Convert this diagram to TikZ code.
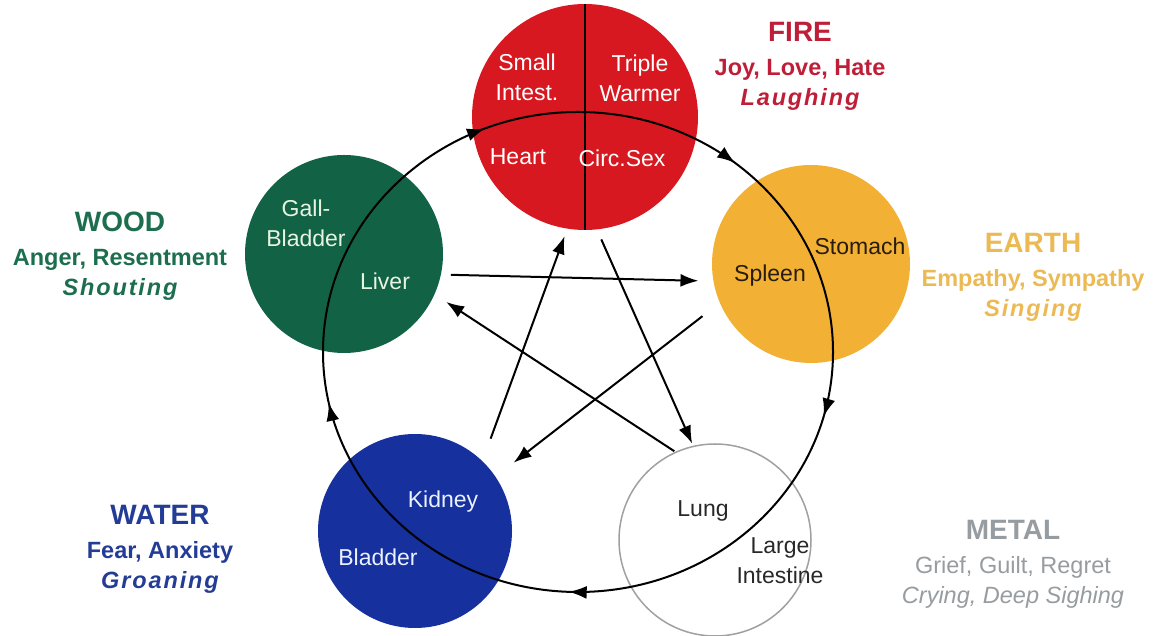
\documentclass[tikz,border=0pt]{standalone}
\usepackage{fontspec}
\setmainfont{Liberation Sans}
\usetikzlibrary{arrows.meta,decorations.markings}
\definecolor{firered}{RGB}{216,24,32}
\definecolor{firetxt}{RGB}{190,30,55}
\definecolor{earthor}{RGB}{242,176,52}
\definecolor{earthtxt}{RGB}{236,186,84}
\definecolor{woodgr}{RGB}{18,98,70}
\definecolor{woodtxt}{RGB}{28,110,78}
\definecolor{waterbl}{RGB}{22,48,158}
\definecolor{watertxt}{RGB}{35,60,150}
\definecolor{metalgr}{RGB}{160,160,160}
\definecolor{metaltxt}{RGB}{150,156,160}
\newcommand{\sound}[1]{{\itshape\addfontfeature{LetterSpace=8}#1}}

\begin{document}
\begin{tikzpicture}[x=1pt, y=1pt, element/.style={circle, inner sep=0, outer sep=0}, organ/.style={font=\fontsize{23}{30}\selectfont, align=center, inner sep=0}, group/.style={anchor=north, font=\fontsize{23.5}{30}\selectfont\bfseries, align=center, inner sep=0}, link/.style={-{Latex[length=18pt,width=13pt]}, line width=2pt}]
\useasboundingbox (0,0) rectangle (1156,636);
% the five elements
\node[element, fill=firered, minimum size=226pt] (fire) at (585,519) {};
\node[element, fill=earthor, minimum size=198pt] (earth) at (811,372) {};
\node[element, draw=metalgr, line width=1.5pt, minimum size=192pt] (metal) at (715,96) {};
\node[element, fill=waterbl, minimum size=194pt] (water) at (415,105) {};
\node[element, fill=woodgr, minimum size=198pt] (wood) at (344,382) {};
\draw[line width=1.6pt] (fire.north) -- (fire.south);
% feeding cycle
\coordinate (hub) at (578,284);
\draw[line width=2pt, postaction={decorate}, decoration={markings, mark=at position 0.108 with {\arrow{Latex[length=18pt,width=13pt]}}, mark=at position 0.292 with {\arrow{Latex[length=18pt,width=13pt]}}, mark=at position 0.506 with {\arrow{Latex[length=18pt,width=13pt]}}, mark=at position 0.717 with {\arrow{Latex[length=18pt,width=13pt]}}, mark=at position 0.939 with {\arrow{Latex[length=18pt,width=13pt]}}}] ([yshift=240pt]hub) arc[start angle=90, end angle=-270, x radius=255, y radius=240];
% controlling star
\draw[link, shorten <=10pt, shorten >=15pt] (wood.-12) -- (earth.190);
\draw[link, shorten <=24pt, shorten >=8pt] (water.46) -- (fire.261);
\draw[link, shorten <=11pt, shorten >=3pt] (fire.276) -- (metal.103);
\draw[link, shorten <=22pt, shorten >=23pt] (earth.203) -- (water.34);
\draw[link, shorten <=2pt, shorten >=14pt] (metal.114) -- (wood.-24);
% organs
\node[organ, text=white] (si) at (527,559) {Small\\Intest.};
\node[organ, text=white] (tw) at (640,558) {Triple\\Warmer};
\node[organ, text=white] (ht) at (518,479) {Heart};
\node[organ, text=white] (cs) at (622,478) {Circ.Sex};
\node[organ, text={rgb,255:red,40;green,28;blue,12}] (st) at (860,390) {Stomach};
\node[organ, text={rgb,255:red,40;green,28;blue,12}] (sp) at (770,360) {Spleen};
\node[organ, text={rgb,255:red,40;green,40;blue,40}] (lu) at (703,125) {Lung};
\node[organ, text={rgb,255:red,40;green,40;blue,40}] (li) at (780,75) {Large\\Intestine};
\node[organ, text={rgb,255:red,235;green,242;blue,255}] (ki) at (443,134) {Kidney};
\node[organ, text={rgb,255:red,235;green,242;blue,255}] (bl) at (378,79) {Bladder};
\node[organ, text={rgb,255:red,232;green,244;blue,226}] (gb) at (306,413) {Gall-\\Bladder};
\node[organ, text={rgb,255:red,232;green,244;blue,226}] (lv) at (385,355) {Liver};
% element names
\node[group, text=firetxt] (firename) at (800,614) {{\fontsize{28}{30}\selectfont FIRE}\\[4pt] Joy, Love, Hate\\ \sound{Laughing}};
\node[group, text=earthtxt] (earthname) at (1033,403) {{\fontsize{28}{30}\selectfont EARTH}\\[4pt] Empathy, Sympathy\\ \sound{Singing}};
\node[group, text=woodtxt] (woodname) at (120,424) {{\fontsize{28}{30}\selectfont WOOD}\\[4pt] Anger, Resentment\\ \sound{Shouting}};
\node[group, text=watertxt] (watername) at (160,131) {{\fontsize{28}{30}\selectfont WATER}\\[4pt] Fear, Anxiety\\ \sound{Groaning}};
\node[group, text=metaltxt] (metalname) at (1013,116) {{\fontsize{28}{30}\selectfont METAL}\\[4pt] \mdseries Grief, Guilt, Regret\\ \mdseries\itshape Crying, Deep Sighing};
\end{tikzpicture}
\end{document}
